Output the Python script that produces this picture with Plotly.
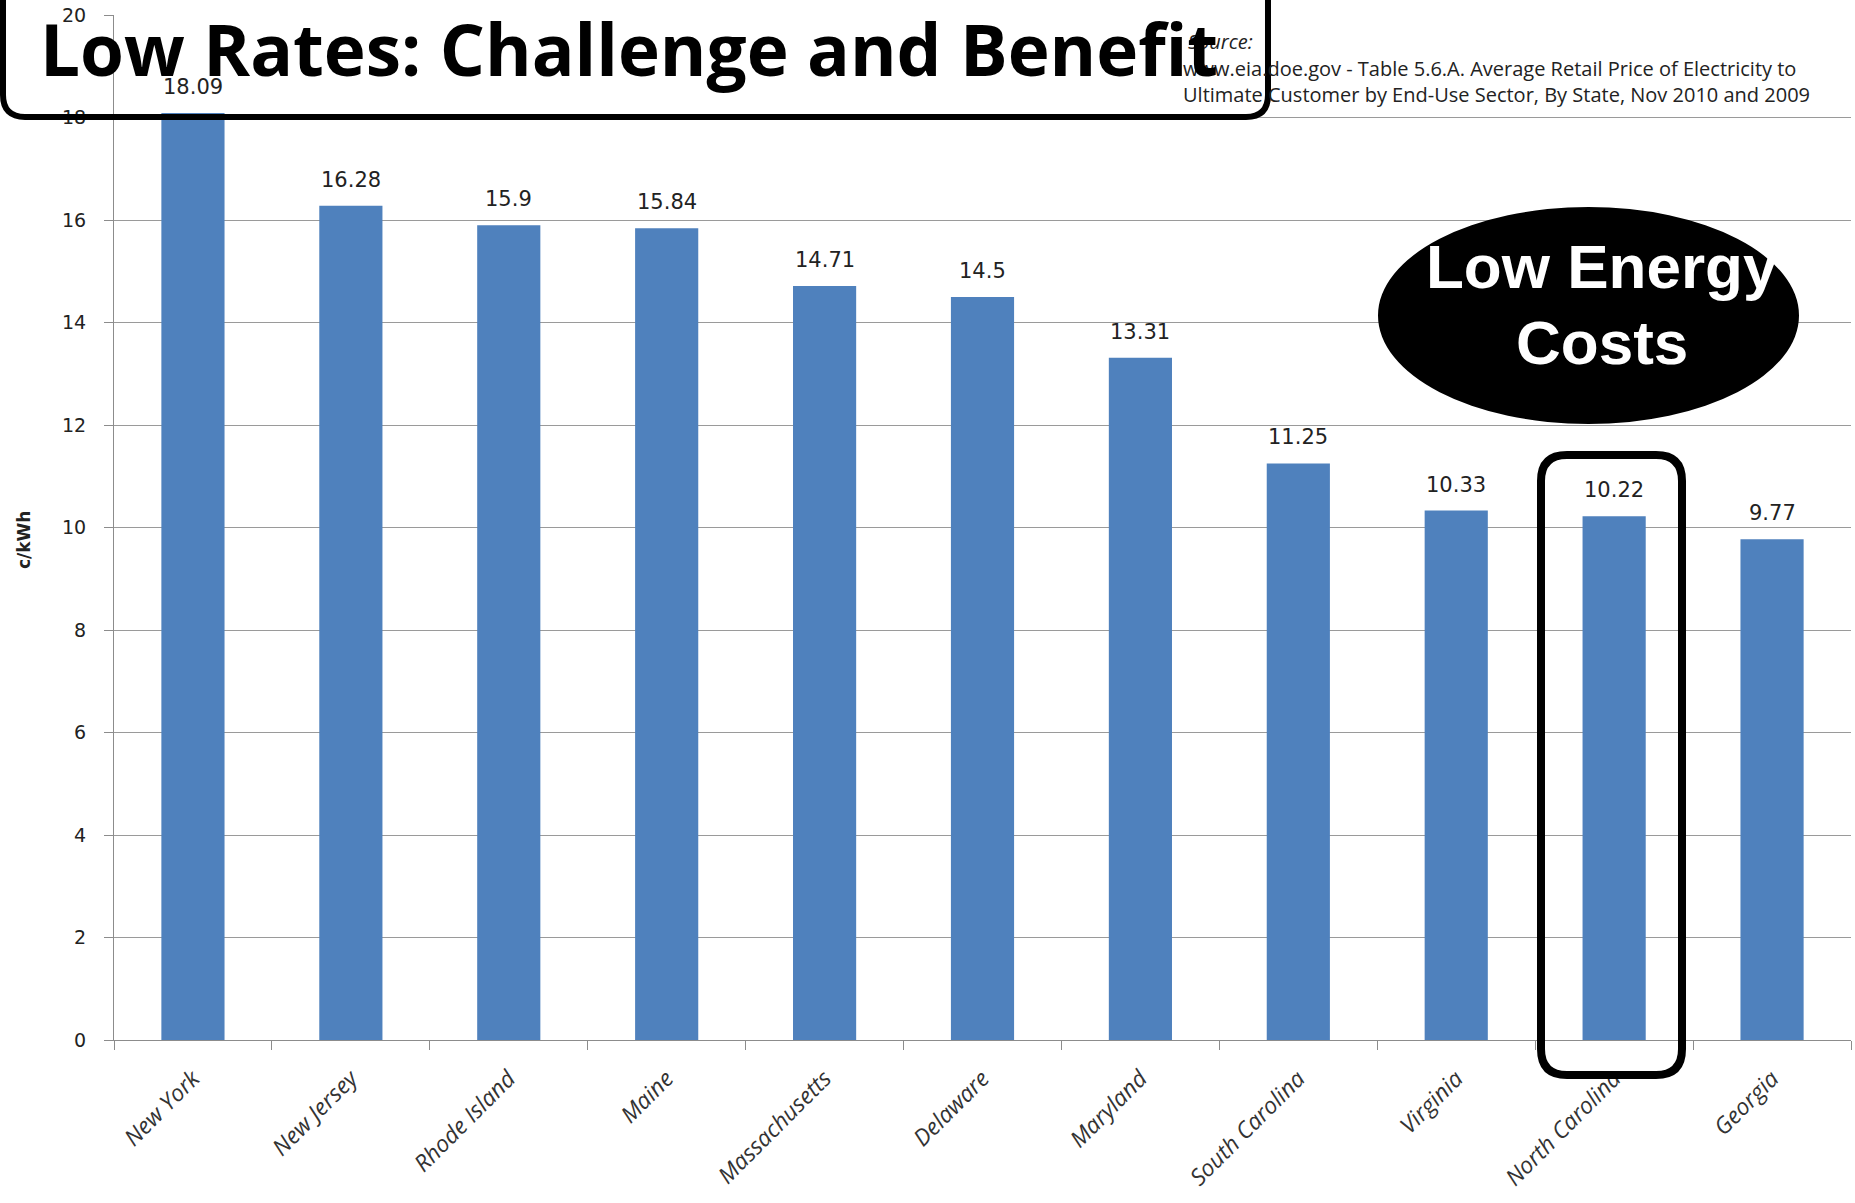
import plotly.graph_objects as go

states = ["New York", "New Jersey", "Rhode Island", "Maine", "Massachusetts", "Delaware",
          "Maryland", "South Carolina", "Virginia", "North Carolina", "Georgia"]
prices = [18.09, 16.28, 15.9, 15.84, 14.71, 14.5, 13.31, 11.25, 10.33, 10.22, 9.77]
y_ticks = [0, 2, 4, 6, 8, 10, 12, 14, 16, 18, 20]

W, H = 1855, 1203
L, R, T, B = 114, 1851, 15, 1040


def px(x):
    return (x - L) / (R - L)


def py(y):
    return (B - y) / (B - T)


def rounded_rect(x0, y0, x1, y1, r):
    pts = [
        ("M", [(x0 + r, y0)]),
        ("L", [(x1 - r, y0)]),
        ("Q", [(x1, y0), (x1, y0 + r)]),
        ("L", [(x1, y1 - r)]),
        ("Q", [(x1, y1), (x1 - r, y1)]),
        ("L", [(x0 + r, y1)]),
        ("Q", [(x0, y1), (x0, y1 - r)]),
        ("L", [(x0, y0 + r)]),
        ("Q", [(x0, y0), (x0 + r, y0)]),
    ]
    s = ""
    for cmd, ps in pts:
        s += cmd + " " + " ".join(f"{px(a):.5f},{py(b):.5f}" for a, b in ps) + " "
    return s + "Z"


fig = go.Figure()
fig.add_trace(go.Bar(x=states, y=prices, marker=dict(color="#4F81BD", line=dict(width=0)),
                     width=0.4, hoverinfo="x+y"))

annotations = []
for s, v in zip(states, prices):
    annotations.append(dict(x=s, y=v, xref="x", yref="y", text=f"{v:g}", showarrow=False,
                            yanchor="bottom", yshift=12,
                            font=dict(family="DejaVu Sans", size=21, color="#222222")))

# y axis title
annotations.append(dict(x=px(24), y=py(540), xref="paper", yref="paper", text="<b>c/kWh</b>",
                        textangle=-90, showarrow=False, xanchor="center", yanchor="middle",
                        font=dict(family="DejaVu Sans", size=17, color="#222222")))

# source text
src_font = dict(family="Open Sans", size=20, color="#222222")
annotations.append(dict(x=px(1186), y=py(41), xref="paper", yref="paper", text="<i>Source:</i>",
                        showarrow=False, xanchor="left", yanchor="middle", font=src_font))
annotations.append(dict(x=px(1181), y=py(68), xref="paper", yref="paper",
                        text="www.eia.doe.gov - Table 5.6.A. Average Retail Price of Electricity to",
                        showarrow=False, xanchor="left", yanchor="middle", font=src_font))
annotations.append(dict(x=px(1181), y=py(95), xref="paper", yref="paper",
                        text="Ultimate Customer by End-Use Sector, By State, Nov 2010 and 2009",
                        showarrow=False, xanchor="left", yanchor="middle", font=src_font))

# title
annotations.append(dict(x=px(38), y=py(48), xref="paper", yref="paper",
                        text="<b>Low Rates: Challenge and Benefit</b>", showarrow=False,
                        xanchor="left", yanchor="middle",
                        font=dict(family="Open Sans", size=71, color="#000000")))

# ellipse text
annotations.append(dict(x=px(1602), y=py(266), xref="paper", yref="paper", text="<b>Low Energy</b>",
                        showarrow=False, xanchor="center", yanchor="middle",
                        font=dict(family="Liberation Sans", size=62, color="#ffffff")))
annotations.append(dict(x=px(1602), y=py(343), xref="paper", yref="paper", text="<b>Costs</b>",
                        showarrow=False, xanchor="center", yanchor="middle",
                        font=dict(family="Liberation Sans", size=62, color="#ffffff")))

shapes = [
    dict(type="circle", xref="paper", yref="paper", x0=px(1378), x1=px(1799), y0=py(424), y1=py(207),
         fillcolor="#000000", line=dict(color="#000000", width=0)),
    dict(type="path", xref="paper", yref="paper", path=rounded_rect(1541, 455, 1682, 1075, 26),
         line=dict(color="#000000", width=8), fillcolor="rgba(0,0,0,0)"),
    dict(type="path", xref="paper", yref="paper", path=rounded_rect(3, -40, 1268, 117, 22),
         line=dict(color="#000000", width=6), fillcolor="rgba(0,0,0,0)"),
]

fig.update_layout(
    width=W, height=H,
    margin=dict(l=L, r=W - R, t=T, b=H - B, autoexpand=False),
    paper_bgcolor="#ffffff", plot_bgcolor="#ffffff",
    showlegend=False,
    annotations=annotations,
    shapes=shapes,
    xaxis=dict(showline=True, linecolor="#8c8c8c", linewidth=1, ticks="outside", tickson="boundaries",
               ticklen=9, tickcolor="#8c8c8c", tickangle=-45, showgrid=False, ticklabelstandoff=15,
               automargin=False,
               tickfont=dict(family="Open Sans", size=23, color="#333333", style="italic")),
    yaxis=dict(range=[0, 20], tickvals=y_ticks, showline=True, linecolor="#8c8c8c", linewidth=1,
               ticks="outside", ticklen=9, tickcolor="#8c8c8c", showgrid=True, gridcolor="#9a9a9a",
               gridwidth=1, zeroline=False, ticklabelstandoff=14, automargin=False,
               tickfont=dict(family="DejaVu Sans", size=19, color="#222222")),
)

fig.write_html("out.html")
